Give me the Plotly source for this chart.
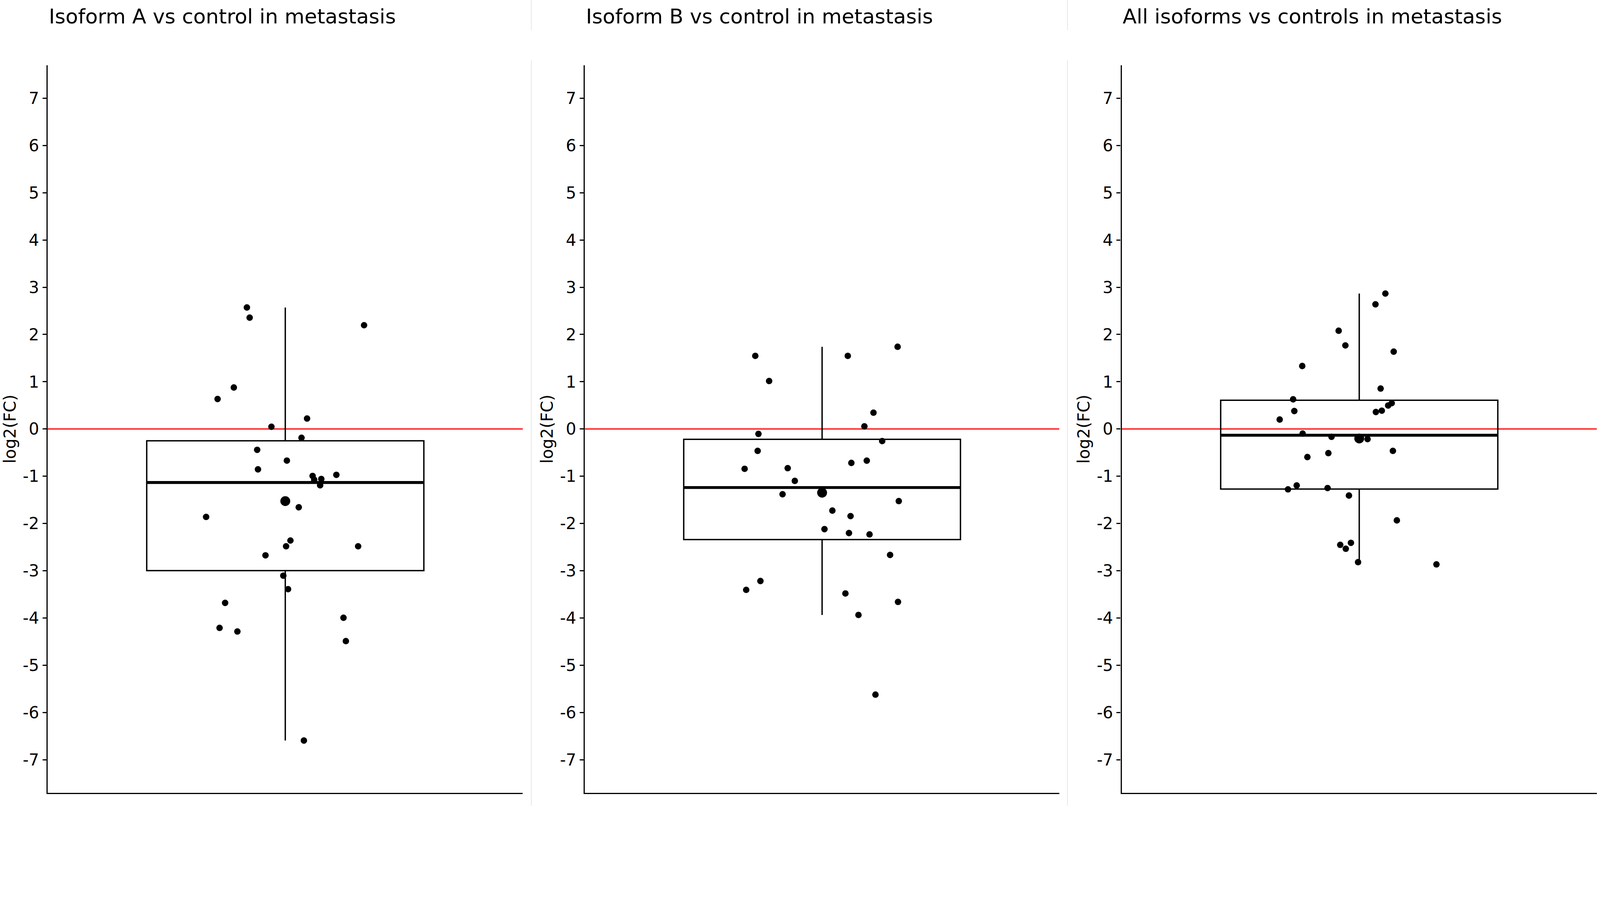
import numpy as np
import plotly.graph_objects as go

# panel titles
titles = ["Isoform A vs control in metastasis",
          "Isoform B vs control in metastasis",
          "All isoforms vs controls in metastasis"]

y_ticks = list(range(-7, 8))

# log2 fold changes, with the jitter offset of each dot
isoA_fc = [0.878, 0.634, 0.221, 0.047, -0.186, -0.442, -0.669, -0.855, -0.994, -0.971,
           -1.074, -1.058, -1.192, -1.657, -1.861, -2.361, -2.483, -2.483, -2.675, -3.105,
           -3.390, -3.681, -3.995, -4.210, -4.286, -4.489, -6.594, 2.571, 2.356, 2.196]
isoA_jit = [-0.130, -0.171, 0.055, -0.035, 0.041, -0.071, 0.004, -0.069, 0.069, 0.129,
            0.073, 0.091, 0.088, 0.034, -0.200, 0.013, 0.002, 0.184, -0.050, -0.005,
            0.007, -0.152, 0.147, -0.166, -0.121, 0.153, 0.047, -0.097, -0.090, 0.199]

isoB_fc = [1.547, 1.547, 1.740, 1.015, 0.345, 0.055, -0.104, -0.256, -0.463, -0.670,
           -0.718, -0.843, -0.829, -1.098, -1.381, -1.526, -1.727, -1.844, -2.120, -2.203,
           -2.231, -2.666, -3.218, -3.405, -3.481, -3.660, -3.936, -5.622]
isoB_jit = [-0.169, 0.065, 0.191, -0.134, 0.130, 0.107, -0.161, 0.152, -0.163, 0.113,
            0.074, -0.196, -0.087, -0.069, -0.100, 0.194, 0.026, 0.072, 0.006, 0.068,
            0.120, 0.172, -0.156, -0.192, 0.059, 0.192, 0.092, 0.135]

all_fc = [2.866, 2.638, 2.079, 1.768, 1.637, 1.333, 0.856, 0.628, 0.546, 0.497,
          0.387, 0.359, 0.380, 0.200, -0.097, -0.166, -0.214, -0.463, -0.511, -0.594,
          -1.195, -1.278, -1.250, -1.409, -1.934, -2.410, -2.452, -2.535, -2.818, -2.866]
all_jit = [0.066, 0.041, -0.052, -0.035, 0.087, -0.144, 0.054, -0.167, 0.082, 0.073,
           0.057, 0.042, -0.164, -0.201, -0.143, -0.070, 0.021, 0.085, -0.078, -0.131,
           -0.158, -0.180, -0.080, -0.026, 0.095, -0.021, -0.048, -0.034, -0.003, 0.195]

panels = [(isoA_fc, isoA_jit), (isoB_fc, isoB_jit), (all_fc, all_jit)]

# layout measured in reference pixels; the page renders at a larger pixel ratio,
# so everything is shrunk by S to fill the same screenshot width
RW, RH = 4688, 2362
S = 4093 / 4688
W, H = round(RW * S), round(RH * S)
FONT = "DejaVu Sans"
box_w = 0.7
panel_px = [(140, 1533), (1715, 3106), (3289, 4682)]
top_px, bot_px = 191, 2324


def px(v):
    return v * S


fig = go.Figure()
layout = dict(width=W, height=H, margin=dict(l=0, r=0, t=0, b=0),
              plot_bgcolor="white", paper_bgcolor="white", showlegend=False,
              shapes=[], annotations=[])

for i, (vals, jit) in enumerate(panels):
    n = "" if i == 0 else str(i + 1)
    xa, ya = "x" + n, "y" + n
    v = np.array(vals)
    q1, med, q3 = np.percentile(v, [25, 50, 75])
    iqr = q3 - q1
    upper = v[v <= q3 + 1.5 * iqr].max()
    lower = v[v >= q1 - 1.5 * iqr].min()

    fig.add_trace(go.Box(x=[0], q1=[q1], median=[med], q3=[q3],
                         lowerfence=[lower], upperfence=[upper],
                         width=box_w, whiskerwidth=0, boxpoints=False,
                         fillcolor="rgba(0,0,0,0)",
                         line=dict(color="black", width=px(4)),
                         xaxis=xa, yaxis=ya, hoverinfo="skip"))
    # thick median bar
    fig.add_trace(go.Scatter(x=[-box_w / 2, box_w / 2], y=[med, med], mode="lines",
                             line=dict(color="black", width=px(8.5)),
                             xaxis=xa, yaxis=ya, hoverinfo="skip"))
    # jittered points
    fig.add_trace(go.Scatter(x=jit, y=vals, mode="markers",
                             marker=dict(color="black", size=px(19)),
                             xaxis=xa, yaxis=ya))
    # mean
    fig.add_trace(go.Scatter(x=[0], y=[v.mean()], mode="markers",
                             marker=dict(color="black", size=px(29)),
                             xaxis=xa, yaxis=ya))

    x0 = panel_px[i][0] / RW
    x1 = panel_px[i][1] / RW
    y0 = (RH - bot_px) / RH
    y1 = (RH - top_px) / RH
    layout["xaxis" + n] = dict(domain=[x0, x1], range=[-0.6, 0.6], anchor=ya,
                               showline=True, linecolor="black", linewidth=px(4),
                               showticklabels=False, ticks="", showgrid=False,
                               zeroline=False)
    layout["yaxis" + n] = dict(domain=[y0, y1], range=[-7.7, 7.7], anchor=xa,
                               tickvals=y_ticks, ticktext=[str(t) for t in y_ticks],
                               ticks="outside", ticklen=px(12), tickwidth=px(4),
                               tickcolor="black", showline=True, linecolor="black",
                               linewidth=px(4), showgrid=False, zeroline=False,
                               tickfont=dict(family=FONT, size=px(48), color="black"))
    # red reference line at 0
    layout["shapes"].append(dict(type="line", xref=xa + " domain", yref=ya,
                                 x0=0, x1=1, y0=0, y1=0, layer="below",
                                 line=dict(color="red", width=px(3.5))))
    layout["annotations"].append(dict(text=titles[i], xref="paper", yref="paper",
                                      x=(panel_px[i][0] + 1) / RW, y=1 - 48 / RH,
                                      xanchor="left", yanchor="middle", showarrow=False,
                                      font=dict(family=FONT, size=px(60), color="black")))
    layout["annotations"].append(dict(text="log2(FC)", xref="paper", yref="paper",
                                      x=(panel_px[i][0] - 111) / RW, y=(y0 + y1) / 2,
                                      xanchor="center", yanchor="middle", textangle=-90,
                                      showarrow=False,
                                      font=dict(family=FONT, size=px(48), color="black")))

# faint separators between the panels
for sx in (1558, 3130):
    for ya0, ya1 in ((0, 88), (177, RH)):
        layout["shapes"].append(dict(type="line", xref="paper", yref="paper",
                                     x0=sx / RW, x1=sx / RW, y0=1 - ya0 / RH, y1=1 - ya1 / RH,
                                     line=dict(color="#e4e4e4", width=px(2))))

fig.update_layout(**layout)
fig.write_html("out.html", config={"displayModeBar": False},
               post_script="document.body.style.margin = '0';")
